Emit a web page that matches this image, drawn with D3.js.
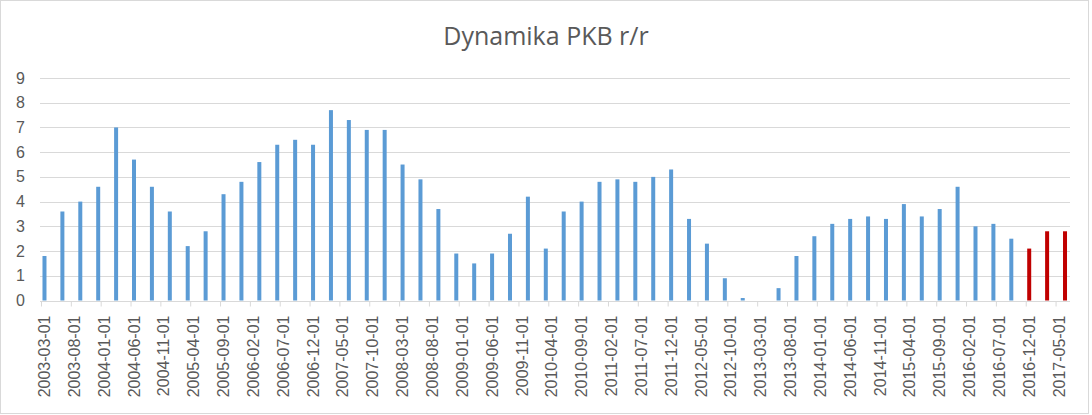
<!DOCTYPE html>
<html>
<head>
<meta charset="utf-8">
<script src="https://cdn.jsdelivr.net/npm/d3@7"></script>
<style>
body { margin: 0; background: #fff; }
svg text { font-family: "Liberation Sans", Arial, sans-serif; fill: #595959; }
</style>
</head>
<body>
<svg id="chart"></svg>
<script>
// quarterly GDP y/y dynamics
const quarters = [
    '2003-03-01', '2003-06-01', '2003-09-01', '2003-12-01',
    '2004-03-01', '2004-06-01', '2004-09-01', '2004-12-01',
    '2005-03-01', '2005-06-01', '2005-09-01', '2005-12-01',
    '2006-03-01', '2006-06-01', '2006-09-01', '2006-12-01',
    '2007-03-01', '2007-06-01', '2007-09-01', '2007-12-01',
    '2008-03-01', '2008-06-01', '2008-09-01', '2008-12-01',
    '2009-03-01', '2009-06-01', '2009-09-01', '2009-12-01',
    '2010-03-01', '2010-06-01', '2010-09-01', '2010-12-01',
    '2011-03-01', '2011-06-01', '2011-09-01', '2011-12-01',
    '2012-03-01', '2012-06-01', '2012-09-01', '2012-12-01',
    '2013-03-01', '2013-06-01', '2013-09-01', '2013-12-01',
    '2014-03-01', '2014-06-01', '2014-09-01', '2014-12-01',
    '2015-03-01', '2015-06-01', '2015-09-01', '2015-12-01',
    '2016-03-01', '2016-06-01', '2016-09-01', '2016-12-01',
    '2017-03-01', '2017-06-01'
];
const pkbValues = [
    1.8, 3.6, 4.0, 4.6,
    7.0, 5.7, 4.6, 3.6,
    2.2, 2.8, 4.3, 4.8,
    5.6, 6.3, 6.5, 6.3,
    7.7, 7.3, 6.9, 6.9,
    5.5, 4.9, 3.7, 1.9,
    1.5, 1.9, 2.7, 4.2,
    2.1, 3.6, 4.0, 4.8,
    4.9, 4.8, 5.0, 5.3,
    3.3, 2.3, 0.9, 0.1,
    0.0, 0.5, 1.8, 2.6,
    3.1, 3.3, 3.4, 3.3,
    3.9, 3.4, 3.7, 4.6,
    3.0, 3.1, 2.5, 2.1,
    2.8, 2.8
];
// bars from this date on are drawn red
const forecastFrom = '2016-12-01';
const xTickLabels = [
    '2003-03-01', '2003-08-01', '2004-01-01', '2004-06-01', '2004-11-01',
    '2005-04-01', '2005-09-01', '2006-02-01', '2006-07-01', '2006-12-01',
    '2007-05-01', '2007-10-01', '2008-03-01', '2008-08-01', '2009-01-01',
    '2009-06-01', '2009-11-01', '2010-04-01', '2010-09-01', '2011-02-01',
    '2011-07-01', '2011-12-01', '2012-05-01', '2012-10-01', '2013-03-01',
    '2013-08-01', '2014-01-01', '2014-06-01', '2014-11-01', '2015-04-01',
    '2015-09-01', '2016-02-01', '2016-07-01', '2016-12-01', '2017-05-01'
];
const yTicks = [0, 1, 2, 3, 4, 5, 6, 7, 8, 9];
const title = 'Dynamika PKB r/r';

const W = 1092, H = 415;
const plotL = 41.5, plotR = 1068, plotT = 78, plotB = 300.5;

const svg = d3.select('#chart')
    .attr('width', W)
    .attr('height', H);

svg.append('rect')
    .attr('x', 0.5).attr('y', 0.5)
    .attr('width', 1088).attr('height', 413)
    .attr('fill', '#fff')
    .attr('stroke', '#d9d9d9');

svg.append('text')
    .attr('x', 546).attr('y', 45)
    .attr('text-anchor', 'middle')
    .style('font-family', '"Open Sans", sans-serif')
    .style('font-size', '25px')
    .text(title);

// date axis in months, like excel's
const fmt = d3.timeFormat('%Y-%m-%d');
const parse = d3.timeParse('%Y-%m-%d');
const months = d3.timeMonth.range(parse(quarters[0]), d3.timeMonth.offset(parse(quarters[quarters.length - 1]), 1)).map(fmt);

const xScale = d3.scaleBand()
    .domain(months)
    .range([plotL, plotR]);
const yScale = d3.scaleLinear()
    .domain([0, 9])
    .range([plotB, plotT]);

// gridlines
svg.append('g')
    .selectAll('line')
    .data(yTicks)
    .join('line')
    .attr('x1', 40).attr('x2', 1070)
    .attr('y1', (d) => Math.round(yScale(d)) + 0.5)
    .attr('y2', (d) => Math.round(yScale(d)) + 0.5)
    .attr('stroke', '#d9d9d9')
    .attr('stroke-width', 1);

svg.append('g')
    .selectAll('text')
    .data(yTicks)
    .join('text')
    .attr('x', 25)
    .attr('y', (d) => yScale(d))
    .attr('dy', '0.35em')
    .attr('text-anchor', 'end')
    .style('font-size', '16px')
    .text((d) => d);

// bars
const bw = 4;
svg.append('g')
    .selectAll('rect')
    .data(quarters.map((q, i) => ({ q, v: pkbValues[i] })))
    .join('rect')
    .attr('x', (d) => xScale(d.q) + xScale.bandwidth() / 2 - bw / 2)
    .attr('y', (d) => yScale(d.v))
    .attr('width', bw)
    .attr('height', (d) => yScale(0) - yScale(d.v))
    .attr('fill', (d) => d.q >= forecastFrom ? '#c00000' : '#5b9bd5');

// x axis
const xAxis = d3.axisBottom(xScale)
    .tickValues(xTickLabels)
    .tickSize(0)
    .tickPadding(0);
const gx = svg.append('g')
    .attr('transform', `translate(0, ${Math.round(plotB) + 0.5})`)
    .call(xAxis);
gx.select('.domain').remove();
gx.selectAll('.tick text')
    .attr('fill', '#595959')
    .style('font-size', '16px')
    .style('font-family', '"Liberation Sans", Arial, sans-serif')
    .style('text-anchor', 'end')
    .attr('x', -14)
    .attr('y', 0)
    .attr('dy', '0.35em')
    .attr('transform', 'rotate(-90)');
gx.selectAll('.tick')
    .append('line')
    .attr('x1', -xScale.bandwidth() / 2).attr('x2', -xScale.bandwidth() / 2)
    .attr('y1', 0).attr('y2', 5)
    .attr('stroke', '#d9d9d9');
gx.append('line')
    .attr('x1', 40).attr('x2', 1070)
    .attr('stroke', '#d9d9d9');
</script>
</body>
</html>
